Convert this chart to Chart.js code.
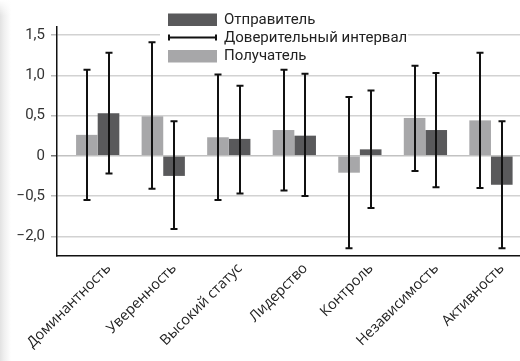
<!DOCTYPE html>
<html>
<head>
<meta charset="utf-8">
<script src="https://cdn.jsdelivr.net/npm/chart.js@4/dist/chart.umd.min.js"></script>
<style>
  html, body { margin: 0; padding: 0; background: #fff; }
  #wrap {
    position: relative; width: 520px; height: 361px;
    background: linear-gradient(to right, #e2e2e2 0px, #efefef 4px, #ffffff 11px);
  }
  #wrap::before {
    content: ""; position: absolute; left: 0; top: 0; width: 14px; height: 16px;
    background: linear-gradient(to bottom, #ffffff, rgba(255,255,255,0));
  }
  canvas { position: absolute; left: 0; top: 0; }
</style>
</head>
<body>
<div id="wrap"><canvas id="c" width="520" height="361"></canvas></div>
<script>
// Traits
const categories = ['Доминантность', 'Уверенность', 'Высокий статус', 'Лидерство', 'Контроль', 'Независимость', 'Активность'];
const seriesNames = ['Отправитель', 'Доверительный интервал', 'Получатель'];

// Mean scores
const receiver = [0.26, 0.49, 0.23, 0.32, -0.21, 0.47, 0.44];
const sender   = [0.53, -0.25, 0.21, 0.25, 0.08, 0.32, -0.36];

// Confidence intervals
const receiverLow  = [-0.55, -0.41, -0.55, -0.43, -1.15, -0.19, -0.40];
const receiverHigh = [1.07, 1.41, 1.01, 1.07, 0.73, 1.12, 1.28];
const senderLow    = [-0.22, -0.91, -0.47, -0.50, -0.65, -0.39, -1.15];
const senderHigh   = [1.28, 0.43, 0.87, 1.02, 0.81, 1.03, 0.43];

// Value axis ticks and their printed labels
const yTickValues = [1.5, 1, 0.5, 0, -0.5, -1];
const yTickLabels = ['1,5', '1,0', '0,5', '0', '−0,5', '−2,0'];

const LIGHT = '#a7a7a9';
const DARK = '#59595b';

const errorBars = {
  id: 'errorBars',
  afterDatasetsDraw(chart) {
    const { ctx, scales: { y } } = chart;
    const ranges = [[receiverLow, receiverHigh], [senderLow, senderHigh]];
    ctx.save();
    ctx.strokeStyle = '#111';
    ctx.lineWidth = 2;
    ranges.forEach(([lo, hi], d) => {
      chart.getDatasetMeta(d).data.forEach((bar, i) => {
        const x = Math.round(bar.x);
        const yTop = y.getPixelForValue(hi[i]);
        const yBot = y.getPixelForValue(lo[i]);
        ctx.beginPath();
        ctx.moveTo(x, yTop); ctx.lineTo(x, yBot);
        ctx.moveTo(x - 3.5, yTop); ctx.lineTo(x + 3.5, yTop);
        ctx.moveTo(x - 3.5, yBot); ctx.lineTo(x + 3.5, yBot);
        ctx.stroke();
      });
    });
    ctx.restore();
  }
};

const boxLegend = {
  id: 'boxLegend',
  afterDraw(chart) {
    const ctx = chart.ctx;
    ctx.save();
    ctx.fillStyle = '#ffffff';
    ctx.fillRect(160, 4, 248, 63);
    const rows = [
      { kind: 'box', color: DARK, y: 19.5 },
      { kind: 'line', y: 37.5 },
      { kind: 'box', color: LIGHT, y: 56 }
    ];
    rows.forEach((r, i) => {
      if (r.kind === 'box') {
        ctx.fillStyle = r.color;
        ctx.fillRect(168, r.y - 6, 49, 12.5);
      } else {
        ctx.strokeStyle = '#111';
        ctx.lineWidth = 2;
        ctx.beginPath();
        ctx.moveTo(168, r.y); ctx.lineTo(217, r.y);
        ctx.moveTo(169, r.y - 3); ctx.lineTo(169, r.y + 3);
        ctx.moveTo(216, r.y - 3); ctx.lineTo(216, r.y + 3);
        ctx.stroke();
      }
      ctx.fillStyle = '#222';
      ctx.font = '15px Roboto';
      ctx.textBaseline = 'middle';
      ctx.textAlign = 'left';
      ctx.fillText(seriesNames[i], 224, r.y + 0.5);
    });
    ctx.restore();
  }
};

new Chart(document.getElementById('c'), {
  type: 'bar',
  data: {
    datasets: [
      { label: seriesNames[2], data: receiver.map((v, i) => ({ x: i, y: v })), backgroundColor: LIGHT },
      { label: seriesNames[0], data: sender.map((v, i) => ({ x: i, y: v })), backgroundColor: DARK }
    ]
  },
  options: {
    responsive: false,
    animation: false,
    events: [],
    categoryPercentage: 0.66,
    barPercentage: 1.0,
    layout: { padding: { top: 27, left: 0, right: 0, bottom: 0 } },
    plugins: { legend: { display: false }, tooltip: { enabled: false } },
    scales: {
      x: {
        type: 'linear',
        offset: false,
        min: -0.621,
        max: 6.443,
        afterBuildTicks: s => { s.ticks = categories.map((_, i) => ({ value: i })); },
        afterFit: s => { s.height = 105; },
        grid: { display: false, drawTicks: false },
        border: { display: true, color: '#111', width: 1.5 },
        ticks: {
          autoSkip: false,
          minRotation: 45,
          maxRotation: 45,
          padding: 4,
          labelOffset: 11,
          color: '#222',
          font: { family: 'Open Sans', size: 14.5 },
          callback: v => categories[v]
        }
      },
      y: {
        min: -1.245,
        max: 1.6,
        afterBuildTicks: s => { s.ticks = yTickValues.map(v => ({ value: v })); },
        afterFit: s => { s.width = 57; },
        grid: {
          color: c => (c.tick && c.tick.value === 0 ? '#c2c2c2' : '#d2d2d2'),
          lineWidth: 1.5,
          tickLength: 6,
          tickColor: c => (c.tick && c.tick.value === 0 ? '#777' : '#bbb')
        },
        border: { display: true, color: '#111', width: 1.5 },
        ticks: {
          padding: 6,
          color: '#333',
          font: { family: 'Roboto', size: 15 },
          callback: v => yTickLabels[yTickValues.indexOf(v)]
        }
      }
    }
  },
  plugins: [errorBars, boxLegend]
});
</script>
</body>
</html>
